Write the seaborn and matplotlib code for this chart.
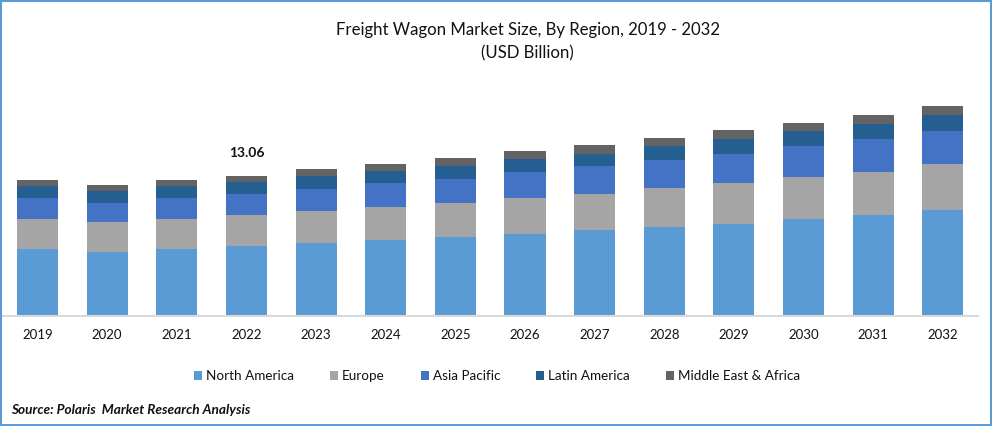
import matplotlib
matplotlib.use('Agg')
import matplotlib.pyplot as plt
import seaborn as sns
from matplotlib.patches import Rectangle

years = ['2019', '2020', '2021', '2022', '2023', '2024', '2025',
         '2026', '2027', '2028', '2029', '2030', '2031', '2032']

# USD billion (2022 total is labelled 13.06)
north_america = [6.16, 5.97, 6.16, 6.44, 6.72, 7.00, 7.28, 7.56, 7.93, 8.21, 8.58, 8.96, 9.42, 9.80]
europe = [2.80, 2.71, 2.80, 2.89, 2.99, 3.08, 3.17, 3.36, 3.45, 3.64, 3.82, 3.92, 4.01, 4.29]
asia_pacific = [1.96, 1.77, 1.96, 2.05, 2.05, 2.24, 2.33, 2.43, 2.52, 2.61, 2.71, 2.89, 2.99, 3.08]
latin_america = [1.12, 1.12, 1.12, 1.12, 1.21, 1.12, 1.12, 1.21, 1.21, 1.31, 1.31, 1.40, 1.49, 1.49]
mea = [0.56, 0.56, 0.56, 0.56, 0.65, 0.65, 0.75, 0.75, 0.75, 0.75, 0.84, 0.75, 0.84, 0.84]

series = [('North America', north_america, '#5B9BD5'),
          ('Europe', europe, '#A5A5A5'),
          ('Asia Pacific', asia_pacific, '#4472C4'),
          ('Latin America', latin_america, '#255E91'),
          ('Middle East & Africa', mea, '#636363')]

sns.set_theme(style='white')
plt.rcParams['font.family'] = ['Lato', 'DejaVu Sans']

W, H = 992, 426
fig = plt.figure(figsize=(W / 100, H / 100), dpi=100)
ax = fig.add_axes([2.7 / W, 1 - 315.5 / H, 975 / W, 215 / H])

bottom = [0.0] * len(years)
for name, vals, col in series:
    sns.barplot(x=years, y=vals, bottom=bottom, color=col, saturation=1,
                width=0.59, linewidth=0, label=name, ax=ax, legend=False)
    bottom = [b + v for b, v in zip(bottom, vals)]

ax.set_xlim(-0.5, 13.5)
ax.set_ylim(0, 215 * 13.06 / 140)
ax.set_yticks([])
ax.set_ylabel('')
sns.despine(ax=ax, left=True)
ax.spines['bottom'].set_color('#D9D9D9')
ax.spines['bottom'].set_linewidth(1.5)
ax.tick_params(axis='x', length=0, pad=10, labelsize=9.5, labelcolor='#111111')

ax.text(3, bottom[3] + 2.1, '13.06', ha='center', va='center', fontsize=10,
        fontweight='bold', color='#111111')

fig.text(527.5 / W, 1 - 30 / H, 'Freight Wagon Market Size, By Region, 2019 - 2032',
         ha='center', va='center', fontsize=12.1, color='#111111')
fig.text(527.5 / W, 1 - 53 / H, '(USD Billion)', ha='center', va='center',
         fontsize=12.1, color='#111111')

handles, labels = ax.get_legend_handles_labels()
fig.legend(handles, labels, ncol=5, loc='center', bbox_to_anchor=(497 / W, 1 - 376 / H),
           frameon=False, fontsize=9.7, handlelength=0.6, handleheight=0.6,
           handletextpad=0.3, columnspacing=2.65, labelcolor='#111111')

fig.text(11 / W, 1 - 410 / H, 'Source: Polaris  Market Research Analysis', ha='left',
         va='center', fontsize=9.8, fontweight='bold', style='italic', color='#111111')

# blue picture frame
fig.add_artist(Rectangle((0, 0), 1, 1, transform=fig.transFigure, fill=False,
                         edgecolor='#5B9BD5', linewidth=2.9))

fig.savefig('out.png', dpi=100)
